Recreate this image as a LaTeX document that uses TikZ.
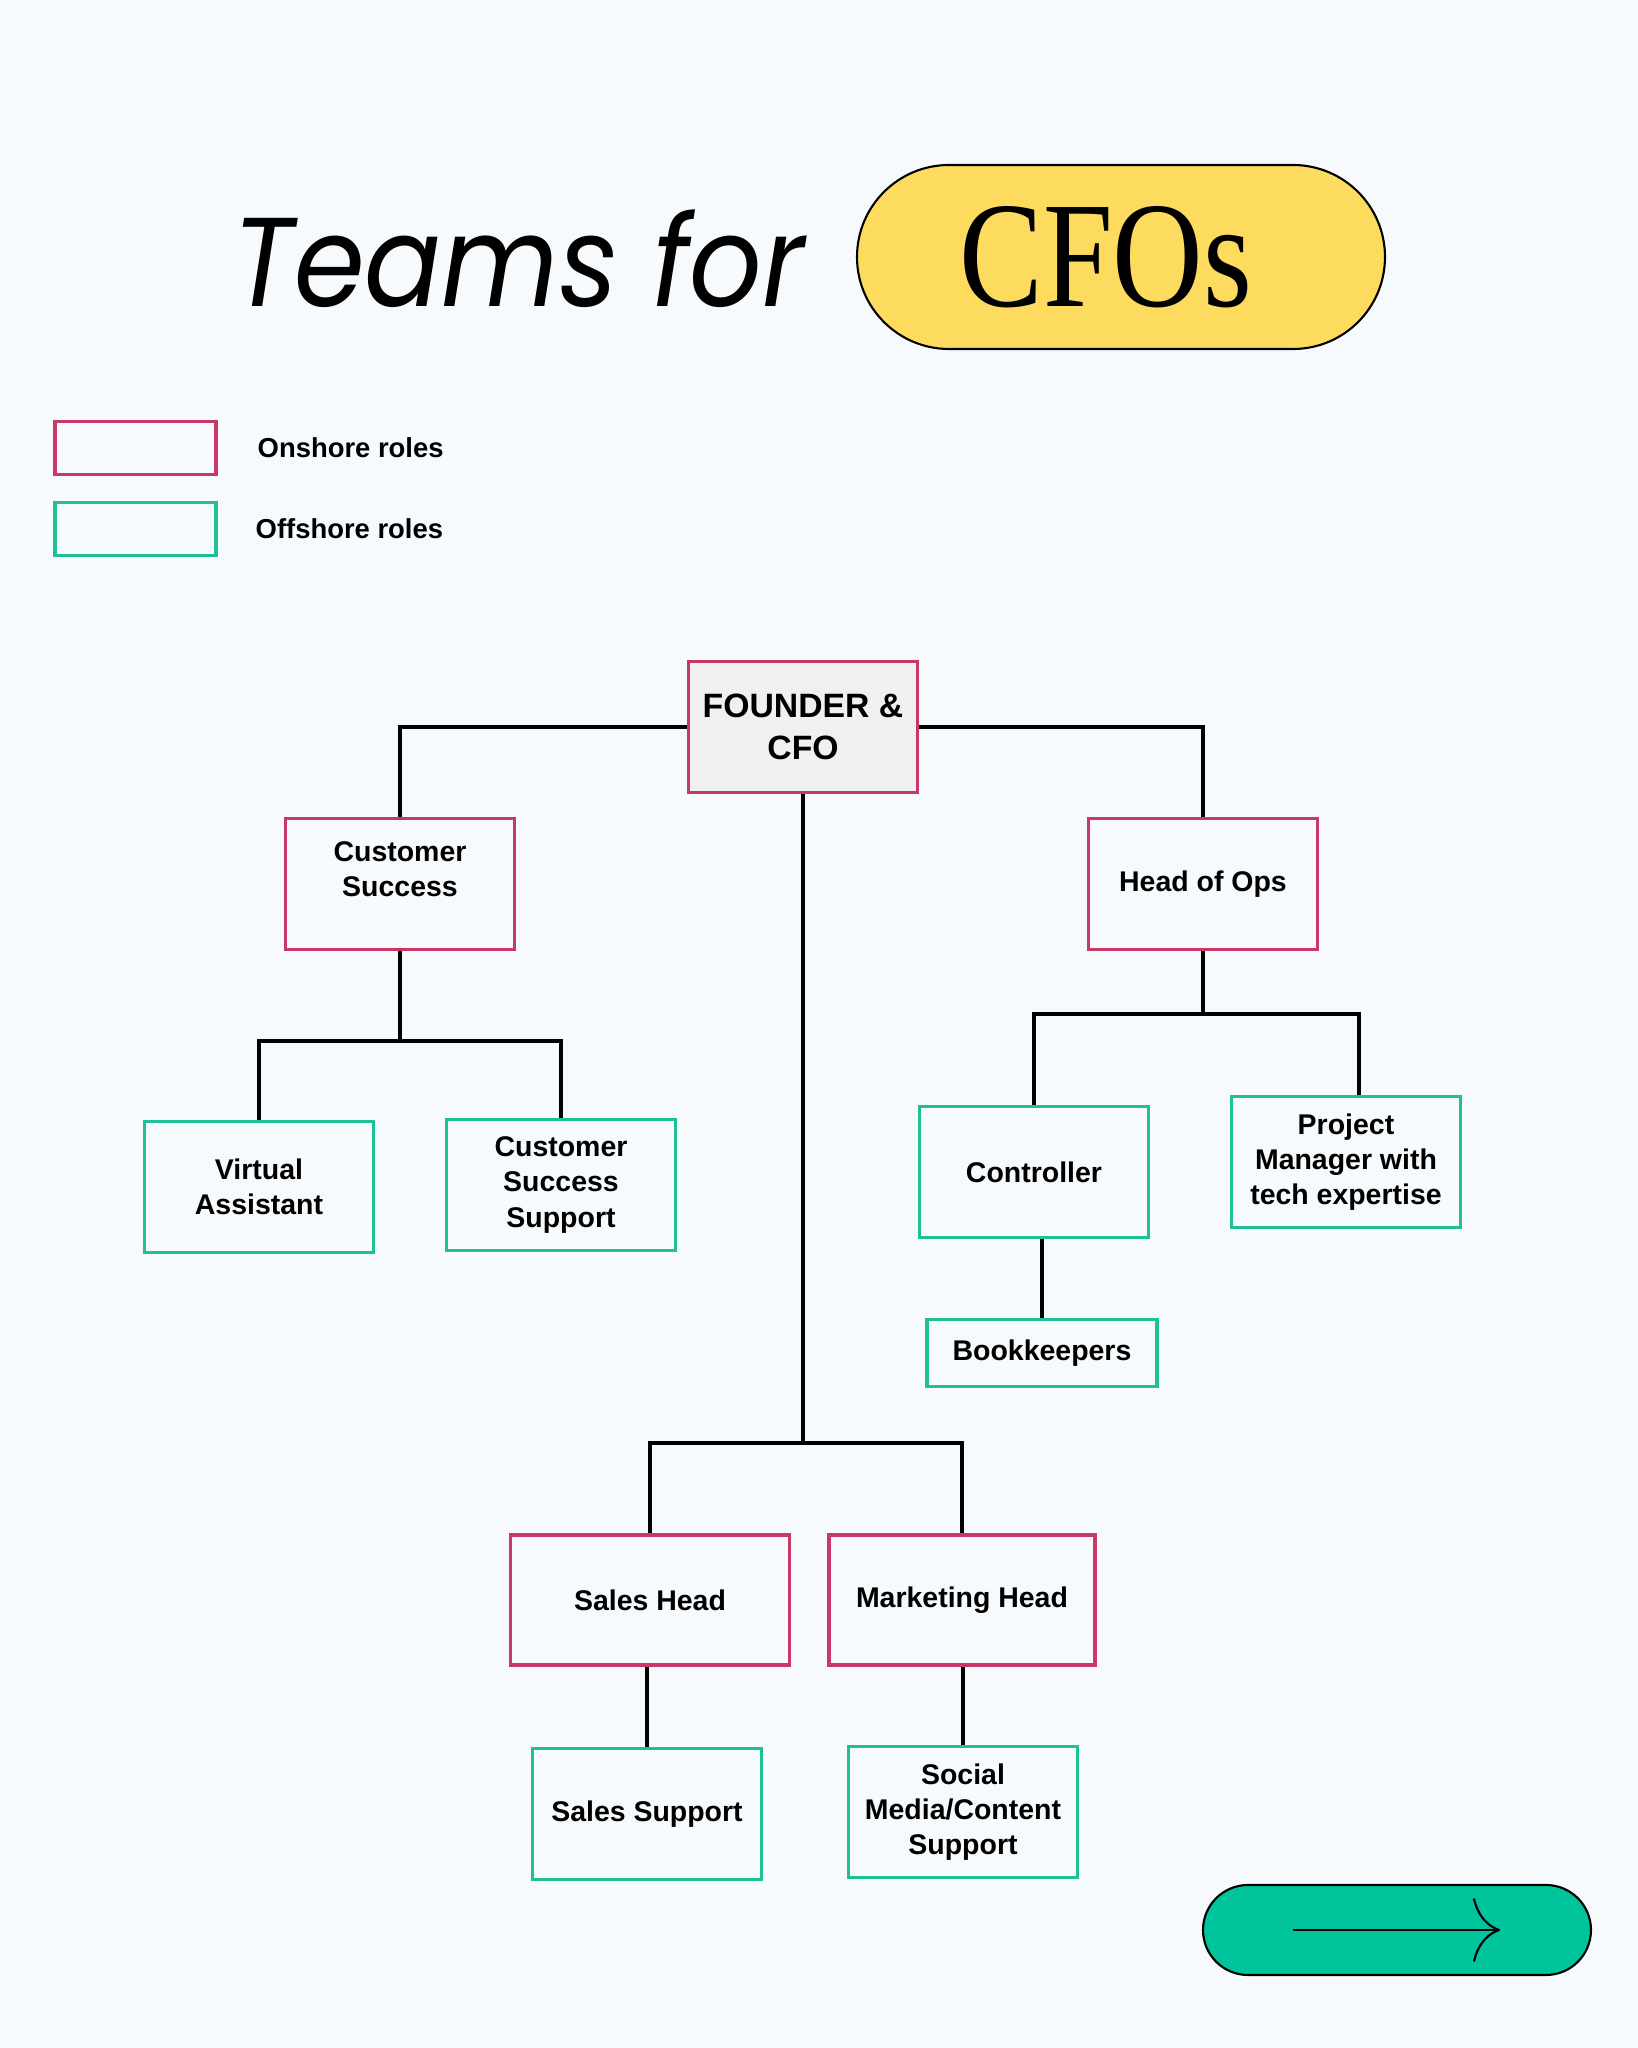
\documentclass[tikz,border=0pt]{standalone}
\usepackage{fontspec}
\usepackage{graphicx}
\usetikzlibrary{calc, positioning, arrows.meta}
\setmainfont{Liberation Sans}
\newfontfamily\titlefont{Poppins}
\newfontfamily\cfofont{Liberation Serif}
\definecolor{onshore}{HTML}{C73866}
\definecolor{offshore}{HTML}{1FBF98}
\definecolor{paper}{HTML}{F7FAFC}
\definecolor{pillyellow}{HTML}{FDDB5E}
\definecolor{pillgreen}{HTML}{00C49C}
\newcommand{\boxtext}{\bfseries\fontsize{8.1}{10}\selectfont}

\begin{document}
\begin{tikzpicture}
  \tikzset{role/.style={draw,line width=1pt,align=center,inner sep=0,
      minimum width=2.29cm,minimum height=1.31cm,font=\boxtext},
    onshore role/.style={role,draw=onshore},
    offshore role/.style={role,draw=offshore},
    link/.style={line width=1pt,black}}
  \fill[paper] (0,0) rectangle (16.38,20.48);
  \useasboundingbox (0,0) rectangle (16.38,20.48);
  % title
  \node(title) [anchor=base,font=\titlefont\itshape\fontsize{36}{40}\selectfont] at (5.19,17.41) {\scalebox{0.9}[1]{Teams for}};
  \node(pill) [draw,fill=pillyellow,line width=0.6pt,rounded corners=0.92cm,
    minimum width=5.28cm,minimum height=1.84cm] at (11.21,17.91) {};
  \node(cfo) [anchor=base,font=\cfofont\fontsize{43}{48}\selectfont] at (11.06,17.41) {\scalebox{0.83}[1]{CFOs}};
  % legend
  \node(on) [onshore role,minimum width=1.61cm,minimum height=0.53cm] at (1.355,16.0) {};
  \node(off) [offshore role,minimum width=1.61cm,minimum height=0.53cm] at (1.355,15.19) {};
  \node(ontxt) [anchor=west,font=\bfseries\fontsize{7.8}{10}\selectfont,inner sep=0] at (2.57,16.0) {Onshore roles};
  \node(offtxt) [anchor=west,font=\bfseries\fontsize{7.8}{10}\selectfont,inner sep=0] at (2.55,15.19) {Offshore roles};
  % roles
  \node(f) [onshore role,fill=black!6,font=\bfseries\fontsize{9.6}{12}\selectfont] at (8.03,13.21) {FOUNDER \&\\CFO};
  \node(cs) [onshore role,label={[font=\boxtext,align=center,yshift=1.5mm]center:Customer\\Success}] at (4.00,11.64) {};
  \node(ops) [onshore role] at (12.03,11.64) {Head of Ops};
  \node(va) [offshore role] at (2.59,8.61) {Virtual\\Assistant};
  \node(css) [offshore role] at (5.61,8.63) {Customer\\Success\\Support};
  \node(ctrl) [offshore role] at (10.34,8.76) {Controller};
  \node(pm) [offshore role] at (13.46,8.86) {Project\\Manager with\\tech expertise};
  \node(bk) [offshore role,minimum width=2.30cm,minimum height=0.67cm] at (10.42,6.95) {Bookkeepers};
  \node(sh) [onshore role,minimum width=2.79cm,minimum height=1.30cm] at (6.50,4.48) {Sales Head};
  \node(mh) [onshore role,minimum width=2.66cm,minimum height=1.30cm] at (9.62,4.48) {Marketing Head};
  \node(ss) [offshore role] at (6.47,2.34) {Sales Support};
  \node(sm) [offshore role] at (9.63,2.36) {Social\\Media/Content\\Support};
  % junctions
  \coordinate(fj) at (8.03,6.05);
  \coordinate(csj) at (4.00,10.07);
  \coordinate(opsj) at (12.03,10.34);
  \draw[link] (f.west) -| (cs.north);
  \draw[link] (f.east) -| (ops.north);
  \draw[link] (f.south) -- (fj);
  \draw[link] (fj) -| (sh.north);
  \draw[link] (fj) -| (mh.north);
  \draw[link] (cs.south) -- (csj);
  \draw[link] (csj) -| (va.north);
  \draw[link] (csj) -| (css.north);
  \draw[link] (ops.south) -- (opsj);
  \draw[link] (opsj) -| (ctrl.north);
  \draw[link] (opsj) -| ([xshift=1.3mm]pm.north);
  \draw[link] (bk.north) -- (bk.north |- ctrl.south);
  \draw[link] (ss.north) -- (ss.north |- sh.south);
  \draw[link] (sm.north) -- (sm.north |- mh.south);
  % next button
  \node(next) [draw,fill=pillgreen,line width=0.6pt,rounded corners=0.45cm,
    minimum width=3.88cm,minimum height=0.90cm] at (13.97,1.18) {};
  \coordinate(nexta) at (12.93,1.18);
  \coordinate(nextb) at (15.00,1.18);
  \draw[line width=0.6pt,-{To[length=2.7mm,width=6.4mm]}] (nexta) -- (nextb);
\end{tikzpicture}
\end{document}
